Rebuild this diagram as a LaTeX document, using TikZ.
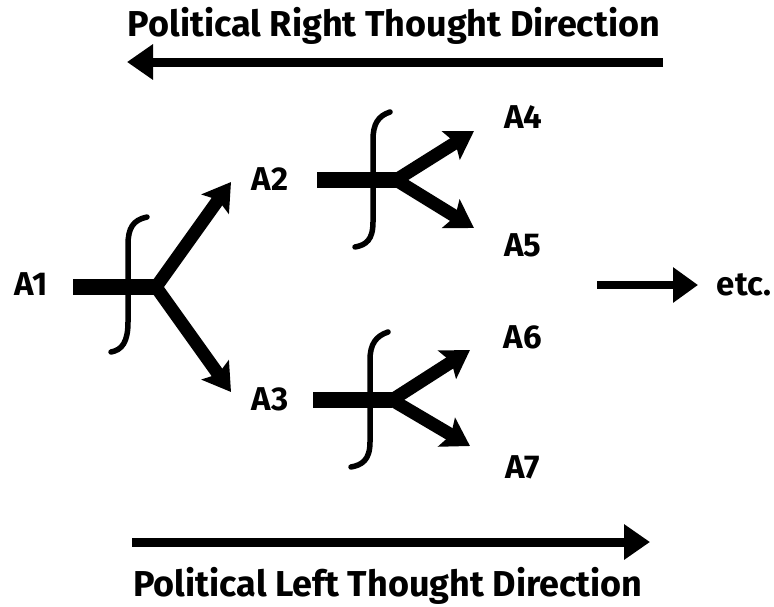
\documentclass[tikz,border=0pt]{standalone}
\usepackage{fontspec}
\setmainfont{Fira Sans}
\usetikzlibrary{arrows.meta}
\tikzset{
  lbl/.style={font=\fontsize{33}{36}\selectfont\bfseries, inner sep=0pt, anchor=base},
  title/.style={font=\fontsize{36}{38}\selectfont\bfseries, inner sep=0pt, anchor=base},
  bar/.style={line width=16pt},
  branch/.style={line width=13pt, -{Stealth[length=27pt,width=33pt,inset=5pt]}},
  bracket/.style={line width=5.5pt, line cap=round},
  dirarrow/.style={line width=9pt, -{Triangle[length=26pt,width=34pt]}},
  etcarrow/.style={line width=8pt, -{Triangle[length=25pt,width=34pt]}}
}
\begin{document}
\begin{tikzpicture}[x=1pt,y=-1pt]
\useasboundingbox (0,0) rectangle (774,606);
% titles
\node[title] (rt) at (394,36) {Political Right Thought Direction};
\node[title] (lt) at (388,596) {Political Left Thought Direction};
\coordinate (rtS) at (663,62);
\coordinate (rtE) at (127,62);
\draw[dirarrow] (rtS) -- (rtE);
\coordinate (ltS) at (132,542);
\coordinate (ltE) at (650,542);
\draw[dirarrow] (ltS) -- (ltE);
% labels
\node[lbl] (A1) at (31,295) {A1};
\node[lbl] (A2) at (270,190) {A2};
\node[lbl] (A3) at (270,410) {A3};
\node[lbl] (A4) at (523,128) {A4};
\node[lbl] (A5) at (523,256) {A5};
\node[lbl] (A6) at (523,348) {A6};
\node[lbl] (A7) at (523,478) {A7};
\node[lbl] (etc) at (744,295) {etc.};
% group 1
\coordinate (b1s) at (73,287);
\coordinate (j1) at (156,287);
\coordinate (t12) at (231,182);
\coordinate (t13) at (231,392);
\draw[bar] (b1s) -- (j1);
\draw[branch] (j1) -- (t12);
\draw[branch] (j1) -- (t13);
\draw[bracket] (147,217) .. controls (133,220) and (128,228) .. (128,245) -- (128,322) .. controls (128,342) and (122,350) .. (111,352);
% group 2
\coordinate (b2s) at (317,180);
\coordinate (j2) at (396,180);
\coordinate (t24) at (474,131);
\coordinate (t25) at (474,228);
\draw[bar] (b2s) -- (j2);
\draw[branch] (j2) -- (t24);
\draw[branch] (j2) -- (t25);
\draw[bracket] (390,112) .. controls (378,116) and (373,124) .. (373,140) -- (373,222) .. controls (373,240) and (366,245) .. (355,247);
% group 3
\coordinate (b3s) at (313,400);
\coordinate (j3) at (392,400);
\coordinate (t36) at (470,350);
\coordinate (t37) at (470,446);
\draw[bar] (b3s) -- (j3);
\draw[branch] (j3) -- (t36);
\draw[branch] (j3) -- (t37);
\draw[bracket] (388,332) .. controls (376,336) and (370,344) .. (370,360) -- (370,442) .. controls (370,460) and (362,465) .. (351,467);
% etc arrow
\coordinate (eS) at (597,285);
\coordinate (eE) at (698,285);
\draw[etcarrow] (eS) -- (eE);
\end{tikzpicture}
\end{document}
